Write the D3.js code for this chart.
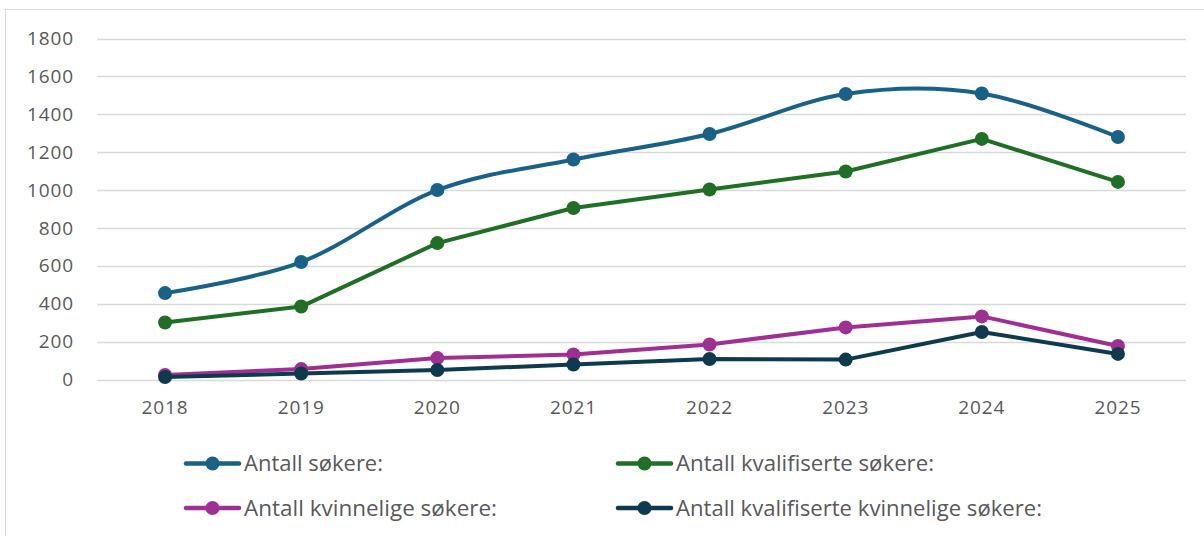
<!DOCTYPE html>
<html>
<head>
<meta charset="utf-8">
<script src="https://cdn.jsdelivr.net/npm/d3@7"></script>
<style>
body { margin: 0; background: #fff; }
svg { display: block; font-family: "Open Sans", "Liberation Sans", sans-serif; }
</style>
</head>
<body>
<svg id="svg" width="1204" height="536"></svg>
<script>
var years = ["2018", "2019", "2020", "2021", "2022", "2023", "2024", "2025"];
var yTicks = [0, 200, 400, 600, 800, 1000, 1200, 1400, 1600, 1800];

var antallSokere = [456, 620, 1000, 1161, 1296, 1507, 1510, 1280];
var antallKvalifiserte = [301, 385, 720, 905, 1003, 1098, 1270, 1043];
var antallKvinnelige = [24, 55, 113, 132, 185, 275, 333, 177];
var antallKvalKvinnelige = [13, 32, 50, 79, 108, 105, 251, 135];

var seriesNames = ["Antall søkere:", "Antall kvalifiserte søkere:", "Antall kvinnelige søkere:", "Antall kvalifiserte kvinnelige søkere:"];
var seriesColors = ["#18628a", "#1f6f24", "#a02f93", "#0e3a50"];

var series = [
	{name: seriesNames[0], values: antallSokere, color: seriesColors[0], smooth: true},
	{name: seriesNames[1], values: antallKvalifiserte, color: seriesColors[1], smooth: false},
	{name: seriesNames[2], values: antallKvinnelige, color: seriesColors[2], smooth: false},
	{name: seriesNames[3], values: antallKvalKvinnelige, color: seriesColors[3], smooth: false}
];

var svg = d3.select("#svg");

// outer frame
svg.append("rect")
	.attr("x", 5.5).attr("y", 9.5)
	.attr("width", 1204).attr("height", 540)
	.attr("fill", "none")
	.attr("stroke", "#d9d9d9")
	.attr("stroke-width", 1);

var x = d3.scaleBand().domain(years).range([97, 1186]);
var y = d3.scaleLinear().domain([0, 1800]).range([379.5, 38.5]);

// gridlines
svg.append("g").selectAll("line").data(yTicks).enter()
	.append("line")
	.attr("x1", 97).attr("x2", 1186)
	.attr("y1", function(d){return Math.round(y(d)) + 0.5;})
	.attr("y2", function(d){return Math.round(y(d)) + 0.5;})
	.attr("stroke", "#d9d9d9")
	.attr("stroke-width", 1.5);

// y axis labels
var yAxis = svg.append("g")
	.attr("transform", "translate(74,0)")
	.call(d3.axisLeft(y).tickValues(yTicks).tickFormat(d3.format("d")).tickSize(0).tickPadding(0));
yAxis.select(".domain").remove();
yAxis.selectAll("text")
	.attr("fill", "#595959")
	.style("font-size", "19px")
	.style("letter-spacing", "0.9px")
	.style("font-family", "'Open Sans', 'Liberation Sans', sans-serif");

// x axis labels
var xAxis = svg.append("g")
	.attr("transform", "translate(0,400)")
	.call(d3.axisBottom(x).tickSize(0).tickPadding(0));
xAxis.select(".domain").remove();
xAxis.selectAll("text")
	.attr("fill", "#595959")
	.style("font-size", "19px")
	.style("letter-spacing", "0.9px")
	.style("font-family", "'Open Sans', 'Liberation Sans', sans-serif");

function cx(i) { return x(years[i]) + x.bandwidth()/2; }

// draw series (last one on top as in reference)
series.forEach(function(s) {
	var line = d3.line()
		.x(function(d, i){return cx(i);})
		.y(function(d){return y(d);})
		.curve(s.smooth ? d3.curveCatmullRom.alpha(0) : d3.curveLinear);
	var g = svg.append("g");
	g.append("path")
		.datum(s.values)
		.attr("d", line)
		.attr("fill", "none")
		.attr("stroke", s.color)
		.attr("stroke-width", 4)
		.attr("stroke-linejoin", "round");
	g.selectAll("circle").data(s.values).enter()
		.append("circle")
		.attr("cx", function(d, i){return cx(i);})
		.attr("cy", function(d){return y(d);})
		.attr("r", 7)
		.attr("fill", s.color);
});

// legend
var legendPos = [[185, 463.5], [617, 463.5], [185, 508], [617, 508]];
var legendWidths = [139, 258, 253, 366];
series.forEach(function(s, i) {
	var p = legendPos[i];
	var lg = svg.append("g").attr("transform", "translate(" + p[0] + "," + p[1] + ")");
	lg.append("line")
		.attr("x1", 1).attr("x2", 54)
		.attr("y1", 0).attr("y2", 0)
		.attr("stroke", s.color)
		.attr("stroke-width", 4.5)
		.attr("stroke-linecap", "round");
	lg.append("circle")
		.attr("cx", 27.5).attr("cy", 0)
		.attr("r", 7)
		.attr("fill", s.color);
	lg.append("text")
		.attr("x", 59).attr("y", 0)
		.attr("dy", "0.36em")
		.attr("fill", "#595959")
		.attr("textLength", legendWidths[i])
		.attr("lengthAdjust", "spacingAndGlyphs")
		.style("font-size", "21px")
		.style("font-family", "'Open Sans', 'Liberation Sans', sans-serif")
		.text(s.name);
});
</script>
</body>
</html>
